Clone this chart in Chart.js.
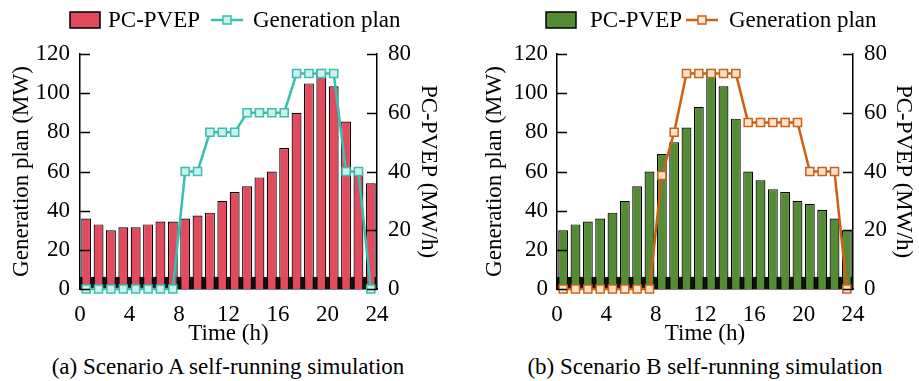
<!DOCTYPE html>
<html>
<head>
<meta charset="utf-8">
<script src="https://cdn.jsdelivr.net/npm/chart.js@4.4.1/dist/chart.umd.min.js"></script>
<style>
  html, body { margin:0; padding:0; background:#fff; }
  #wrap { position:relative; width:919px; height:381px; overflow:hidden; }
  canvas { position:absolute; top:0; }
  .cap { position:absolute; top:354px; line-height:26px; font-size:23px; font-family:'Liberation Serif', serif;
         color:#000; white-space:nowrap; transform:translateX(-50%); }
</style>
</head>
<body>
<div id="wrap">
  <canvas id="chartA" width="460" height="348" style="left:0"></canvas>
  <canvas id="chartB" width="459" height="348" style="left:460px"></canvas>
  <div class="cap" style="left:228px">(a) Scenario A self-running simulation</div>
  <div class="cap" style="left:705px">(b) Scenario B self-running simulation</div>
</div>
<script>
'use strict';

/* ── DATA ────────────────────────────────────────────────── */
const HOURS = [0.5,1.5,2.5,3.5,4.5,5.5,6.5,7.5,8.5,9.5,10.5,11.5,
               12.5,13.5,14.5,15.5,16.5,17.5,18.5,19.5,20.5,21.5,22.5,23.5];
const X_TICKS = [0,4,8,12,16,20,24];

// PC-PVEP (MW/h), right axis
const PVEP_A = [24,22,20,21,21,22,23,23,24,25,26,30,33,35,38,40,48,60,70,75,69,57,40,36];
const PVEP_B = [20,22,23,24,26,30,35,40,46,50,55,62,75,69,58,40,37,34,33,30,29,27,24,20];
// dark strip along the base of the bars (MW/h)
const BASE   = [4,4,4,4,4,4,4,4,4,4,4,4,4,4,4,4,4,4,4,4,4,4,4,4];

// Generation plan (MW), left axis
const PLAN_A = [0,0,0,0,0,0,0,0,60,60,80,80,80,90,90,90,90,110,110,110,110,60,60,0];
const PLAN_B = [0,0,0,0,0,0,0,0,58,80,110,110,110,110,110,85,85,85,85,85,60,60,60,0];

/* ── HELPERS ─────────────────────────────────────────────── */
const pts = vals => HOURS.map((h,i)=>({ x:h, y:vals[i] }));
const FONT = "'Liberation Serif', 'Times New Roman', serif";

Chart.defaults.font.family = FONT;
Chart.defaults.font.size = 23;
Chart.defaults.color = '#000';

/* ── PLUGINS ─────────────────────────────────────────────── */
// tick marks pointing into the plot
const innerTicks = {
  id:'innerTicks',
  afterDraw(chart) {
    const { ctx, chartArea:a } = chart;
    ctx.save();
    ctx.strokeStyle = '#000';
    ctx.lineWidth = 1.5;
    ['y','y1'].forEach(id=>{
      const s = chart.scales[id];
      s.ticks.forEach(t=>{
        const py = Math.round(s.getPixelForValue(t.value)) + .5;
        ctx.beginPath();
        if (id==='y') { ctx.moveTo(a.left, py); ctx.lineTo(a.left+10, py); }
        else          { ctx.moveTo(a.right, py); ctx.lineTo(a.right-10, py); }
        ctx.stroke();
      });
    });
    ctx.restore();
  }
};

// legend: filled box + line with square marker
const topLegend = {
  id:'topLegend',
  afterDraw(chart, args, o) {
    const { ctx } = chart;
    const y = 20;
    ctx.save();
    ctx.font = `23px ${FONT}`;
    ctx.textBaseline = 'middle';
    // bar item
    ctx.fillStyle = o.barColor;
    ctx.fillRect(o.boxX, y-8, 30, 16);
    ctx.strokeStyle = '#000'; ctx.lineWidth = 1.5;
    ctx.strokeRect(o.boxX, y-8, 30, 16);
    ctx.fillStyle = '#000';
    ctx.fillText('PC-PVEP', o.boxText, y+1);
    // line item
    ctx.strokeStyle = o.lineColor; ctx.lineWidth = 2.5;
    ctx.beginPath(); ctx.moveTo(o.lineX0, y); ctx.lineTo(o.lineX1, y); ctx.stroke();
    const mx = (o.lineX0 + o.lineX1) / 2;
    ctx.fillStyle = o.markFill; ctx.lineWidth = 1.5;
    ctx.fillRect(mx-4, y-4, 8, 8); ctx.strokeRect(mx-4, y-4, 8, 8);
    ctx.fillStyle = '#000';
    ctx.fillText('Generation plan', o.lineText, y+1);
    ctx.restore();
  }
};

/* ── CHART ───────────────────────────────────────────────── */
function makeChart(id, cfg) {
  new Chart(document.getElementById(id), {
    data:{
      datasets:[
        { type:'line', label:'Generation plan', data:pts(cfg.plan), yAxisID:'y', order:0,
          borderColor:cfg.lineColor, borderWidth:2.5, tension:0,
          pointStyle:'rect', pointRadius:5.7, pointBorderWidth:1.5,
          pointBackgroundColor:cfg.markFill, pointBorderColor:cfg.lineColor, clip:false },
        { type:'bar', label:'PC-PVEP', data:pts(cfg.pvep), yAxisID:'y1', order:1, grouped:false,
          backgroundColor:cfg.barColor, borderColor:'#000', borderWidth:1.2,
          barPercentage:.8, categoryPercentage:1 },
        { type:'bar', label:'base', data:pts(BASE), yAxisID:'y1', order:2, grouped:false,
          backgroundColor:'#111', borderWidth:0, barPercentage:1, categoryPercentage:1 },
      ]
    },
    options:{
      responsive:false, animation:false,
      layout:{ padding:{ top:54, left:0, right:0, bottom:0 } },
      plugins:{
        legend:{ display:false }, tooltip:{ enabled:false },
        topLegend:cfg.legend
      },
      scales:{
        x:{ type:'linear', position:'bottom', min:0, max:24, offset:false,
            afterBuildTicks:s=>{ s.ticks = X_TICKS.map(v=>({ value:v })); },
            afterFit:s=>{ s.height = 59; },
            grid:{ display:false }, border:{ color:'#000', width:1.5 },
            ticks:{ padding:4, maxRotation:0, autoSkip:false },
            title:{ display:true, text:'Time (h)', padding:{ top:0, bottom:0 } } },
        y:{ position:'left', min:0, max:120,
            afterFit:s=>{ s.width = cfg.leftW; },
            grid:{ display:false, drawTicks:false }, border:{ color:'#000', width:1.5 },
            ticks:{ stepSize:20, padding:cfg.leftPad },
            title:{ display:true, text:'Generation plan (MW)', padding:{ top:cfg.leftTitle, bottom:0 } } },
        y1:{ position:'right', min:0, max:80,
            afterFit:s=>{ s.width = cfg.rightW; },
            grid:{ display:false, drawTicks:false }, border:{ color:'#000', width:1.5 },
            ticks:{ stepSize:20, padding:11 },
            title:{ display:true, text:'PC-PVEP (MW/h)', padding:{ top:cfg.rightTitle, bottom:0 } } }
      }
    },
    plugins:[innerTicks, topLegend]
  });
}

makeChart('chartA', {
  pvep:PVEP_A, plan:PLAN_A,
  barColor:'#e34a5d', lineColor:'#38bfb0', markFill:'#cdf0ea',
  leftW:80, rightW:83, leftPad:10, leftTitle:8, rightTitle:18,
  legend:{ barColor:'#e34a5d', lineColor:'#38bfb0', markFill:'#cdf0ea',
           boxX:70, boxText:108, lineX0:211, lineX1:243, lineText:253 }
});

makeChart('chartB', {
  pvep:PVEP_B, plan:PLAN_B,
  barColor:'#548c33', lineColor:'#cc6114', markFill:'#fde4d2',
  leftW:97, rightW:66, leftPad:9, leftTitle:21, rightTitle:2,
  legend:{ barColor:'#548c33', lineColor:'#cc6114', markFill:'#fde4d2',
           boxX:86, boxText:130, lineX0:226, lineX1:258, lineText:269 }
});
</script>
</body>
</html>
